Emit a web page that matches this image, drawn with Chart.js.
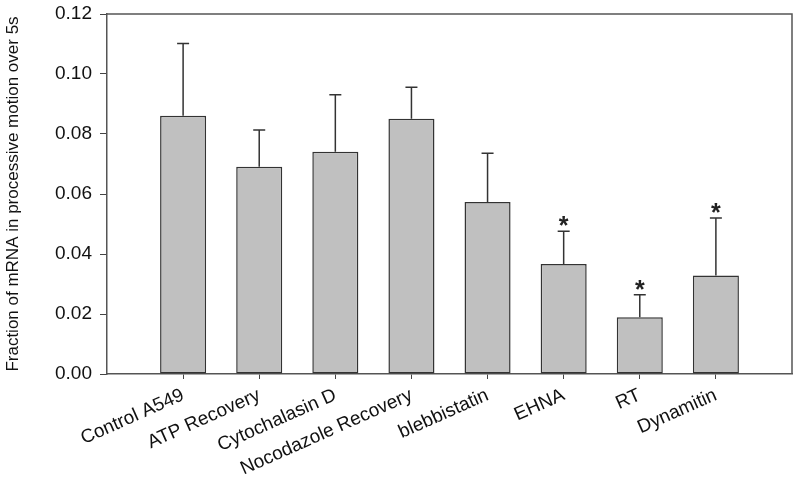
<!DOCTYPE html>
<html lang="en">
<head>
  <meta charset="UTF-8">
  <script src="https://cdn.jsdelivr.net/npm/chart.js"></script>
  <title>mRNA processive motion</title>
  <style>
    html, body { margin: 0; padding: 0; background: #fff; }
    #wrap { width: 800px; height: 486px; }
  </style>
</head>
<body>
  <div id="wrap"><canvas id="myChart"></canvas></div>

<script>
  // values
  const categories = ['Control A549', 'ATP Recovery', 'Cytochalasin D', 'Nocodazole Recovery',
                      'blebbistatin', 'EHNA', 'RT', 'Dynamitin'];
  const fractions  = [0.0861, 0.0691, 0.0741, 0.0851, 0.0573, 0.0367, 0.0189, 0.0328];
  const errorTops  = [0.1102, 0.0813, 0.0931, 0.0956, 0.0736, 0.0476, 0.0264, 0.0520];
  const significant = [false, false, false, false, false, true, true, true];
  const yMax = 0.12;
  const yStep = 0.02;

  // one empty slot on each side, like the original plot
  const labels = [''].concat(categories, ['']);
  const barData = [null].concat(fractions, [null]);

  const FONT = 'Liberation Sans, Arial, sans-serif';

  const errorBars = {
    id: 'errorBars',
    afterDatasetsDraw(chart) {
      const ctx = chart.ctx;
      const xs = chart.scales.x, ys = chart.scales.y;
      ctx.save();
      ctx.strokeStyle = '#333';
      ctx.lineWidth = 1.5;
      categories.forEach((c, i) => {
        const x = xs.getPixelForValue(i + 1);
        const yBar = ys.getPixelForValue(fractions[i]);
        const yTop = ys.getPixelForValue(errorTops[i]);
        ctx.beginPath();
        ctx.moveTo(x, yBar);
        ctx.lineTo(x, yTop);
        ctx.moveTo(x - 6, yTop);
        ctx.lineTo(x + 6, yTop);
        ctx.stroke();
        if (significant[i]) {
          ctx.fillStyle = '#222';
          ctx.font = 'bold 25px ' + FONT;
          ctx.textAlign = 'center';
          ctx.textBaseline = 'alphabetic';
          ctx.fillText('*', x, yTop + 3);
        }
      });
      ctx.restore();
    },
    afterDraw(chart) {
      // top and right edges of the frame
      const a = chart.chartArea, ctx = chart.ctx;
      ctx.save();
      ctx.strokeStyle = '#555';
      ctx.lineWidth = 1.5;
      ctx.beginPath();
      ctx.moveTo(a.left, a.top);
      ctx.lineTo(a.right, a.top);
      ctx.lineTo(a.right, a.bottom);
      ctx.stroke();
      ctx.restore();
    }
  };

  const myChart = new Chart(document.getElementById('myChart'), {
    type: 'bar',
    data: {
      labels: labels,
      datasets: [{
        data: barData,
        backgroundColor: '#c0c0c0',
        borderColor: '#333',
        borderWidth: 1.5,
        borderSkipped: false,
        barPercentage: 0.605,
        categoryPercentage: 1
      }]
    },
    options: {
      responsive: true,
      maintainAspectRatio: false,
      animation: false,
      layout: { padding: { top: 14, right: 8, left: 0, bottom: 0 } },
      plugins: {
        legend: { display: false },
        tooltip: { enabled: false }
      },
      scales: {
        x: {
          offset: false,
          border: { color: '#555', width: 1.5 },
          grid: {
            offset: false,
            drawOnChartArea: false,
            tickLength: 5,
            tickColor: (c) => (c.index === 0 || c.index === labels.length - 1) ? 'rgba(0,0,0,0)' : '#444'
          },
          ticks: {
            autoSkip: false,
            maxRotation: 24,
            minRotation: 24,
            padding: 5,
            color: '#111',
            font: { family: FONT, size: 19 }
          },
          afterFit(scale) {
            scale.height = 112;
            scale.paddingLeft = 0;
            scale.paddingRight = 0;
          }
        },
        y: {
          min: 0,
          max: yMax,
          border: { color: '#555', width: 1.5 },
          grid: { drawOnChartArea: false, tickLength: 7, tickColor: '#444' },
          ticks: {
            stepSize: yStep,
            padding: 8,
            color: '#111',
            font: { family: FONT, size: 19 },
            callback: (v) => v.toFixed(2)
          },
          title: {
            display: true,
            text: 'Fraction of mRNA in processive motion over 5s',
            color: '#111',
            font: { family: FONT, size: 17 },
            padding: { top: 3, bottom: 0 }
          },
          afterFit(scale) {
            scale.width = 107;
            scale.paddingTop = 0;
            scale.paddingBottom = 0;
          }
        }
      }
    },
    plugins: [errorBars]
  });
</script>
</body>
</html>
